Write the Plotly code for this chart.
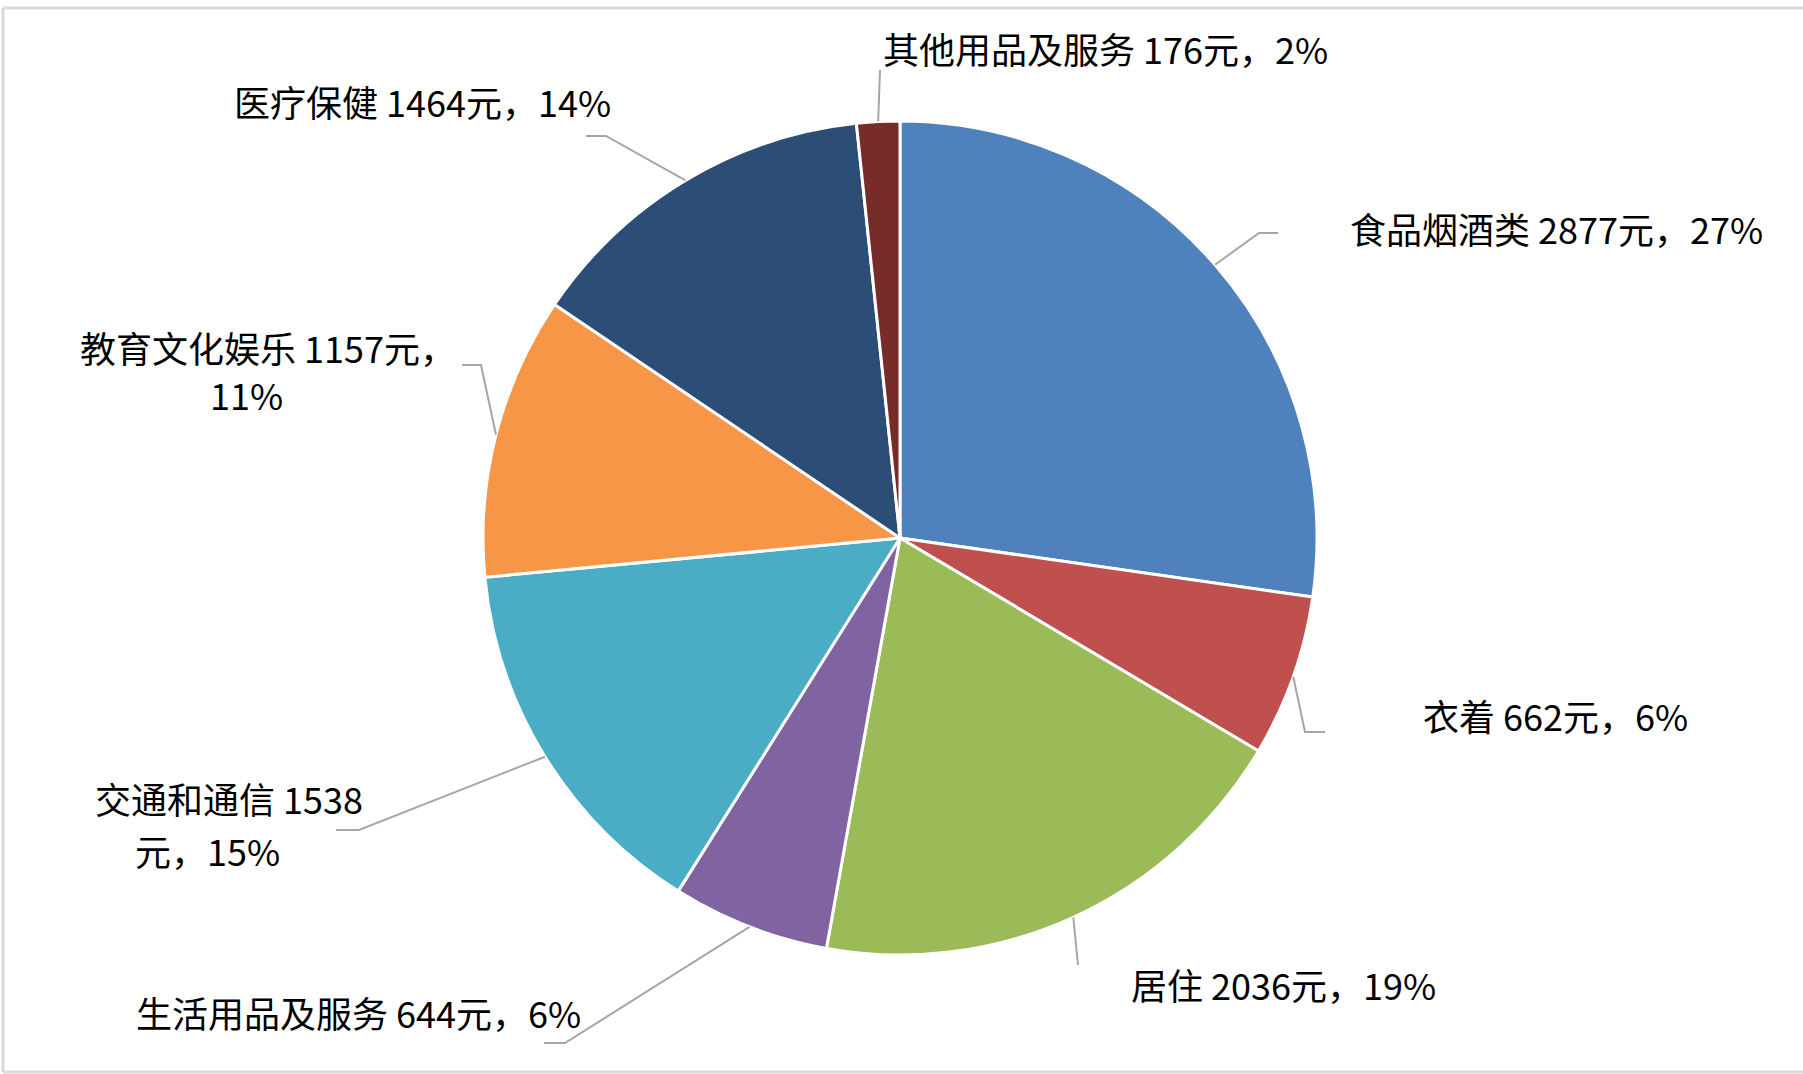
import math
import plotly.graph_objects as go

# ---------------- data ----------------
categories = ["食品烟酒类", "衣着", "居住", "生活用品及服务", "交通和通信", "教育文化娱乐", "医疗保健", "其他用品及服务"]
values = [2877, 662, 2036, 644, 1538, 1157, 1464, 176]
percent_labels = ["27%", "6%", "19%", "6%", "15%", "11%", "14%", "2%"]
colors = ["#4F81BD", "#C0504D", "#9BBB59", "#8064A2", "#4BACC6", "#F79646", "#2C4D75", "#772C2A"]

# label lines (some labels wrap onto two lines, as in the reference)
label_lines = [
    [f"{categories[0]} {values[0]}元，{percent_labels[0]}"],
    [f"{categories[1]} {values[1]}元，{percent_labels[1]}"],
    [f"{categories[2]} {values[2]}元，{percent_labels[2]}"],
    [f"{categories[3]} {values[3]}元，{percent_labels[3]}"],
    [f"{categories[4]} {values[4]}", f"元，{percent_labels[4]}"],
    [f"{categories[5]} {values[5]}元，", f"{percent_labels[5]}"],
    [f"{categories[6]} {values[6]}元，{percent_labels[6]}"],
    [f"{categories[7]} {values[7]}元，{percent_labels[7]}"],
]

# ---------------- layout constants (pixels) ----------------
W, H = 1803, 1074
CX, CY, R = 900, 538, 417
label_pos = [
    [(1556, 228)],
    [(1555, 715)],
    [(1283, 984)],
    [(358, 1012)],
    [(229, 798), (207, 850)],
    [(268, 347), (247, 394)],
    [(422, 101)],
    [(1105, 48)],
]
leader_elbow = [(1259, 233), (1305, 732), (1078, 965), (565, 1043),
                (359, 830), (481, 365), (606, 136), (880, 70)]
leader_end = [(1278, 233), (1325, 732), (1078, 965), (544, 1043),
              (336, 830), (462, 365), (586, 136), (880, 70)]


def px(x):
    return x / W


def py(y):
    return 1 - y / H


fig = go.Figure()
fig.add_trace(go.Pie(
    labels=categories,
    values=values,
    sort=False,
    direction="clockwise",
    rotation=0,
    marker=dict(colors=colors, line=dict(color="white", width=3)),
    textinfo="none",
    hoverinfo="label+value+percent",
    showlegend=False,
    domain=dict(x=[px(CX - R), px(CX + R)], y=[py(CY + R), py(CY - R)]),
))

shapes = []
# frame
frame_line = dict(color="#D9D9D9", width=3)
shapes.append(dict(type="line", xref="paper", yref="paper", x0=px(3), x1=px(1810), y0=py(8), y1=py(8),
                   line=frame_line))
shapes.append(dict(type="line", xref="paper", yref="paper", x0=px(3), x1=px(1810), y0=py(1072), y1=py(1072),
                   line=frame_line))
shapes.append(dict(type="line", xref="paper", yref="paper", x0=px(3), x1=px(3), y0=py(8), y1=py(1072),
                   line=frame_line))

# leader lines from slice mid-angle on the pie edge
total = sum(values)
cum = 0.0
for i, v in enumerate(values):
    mid = (cum + v / 2) / total * 2 * math.pi
    cum += v
    sx = CX + R * math.sin(mid)
    sy = CY - R * math.cos(mid)
    ex, ey = leader_elbow[i]
    fx, fy = leader_end[i]
    path = f"M {px(sx)} {py(sy)} L {px(ex)} {py(ey)} L {px(fx)} {py(fy)}"
    shapes.append(dict(type="path", xref="paper", yref="paper", path=path,
                       line=dict(color="#A6A6A6", width=2)))

annotations = []
for lines, poss in zip(label_lines, label_pos):
    for t, (x, y) in zip(lines, poss):
        annotations.append(dict(x=px(x), y=py(y), xref="paper", yref="paper", text=t,
                                showarrow=False, xanchor="center", yanchor="middle", align="center",
                                font=dict(family="Noto Sans CJK SC", size=36, color="#000000")))

fig.update_layout(
    width=W, height=H,
    margin=dict(l=0, r=0, t=0, b=0),
    paper_bgcolor="white",
    plot_bgcolor="white",
    shapes=shapes,
    annotations=annotations,
)

fig.write_html("out.html",
               config={"displayModeBar": False},
               post_script="document.body.style.margin='0';document.body.style.overflow='hidden';")
